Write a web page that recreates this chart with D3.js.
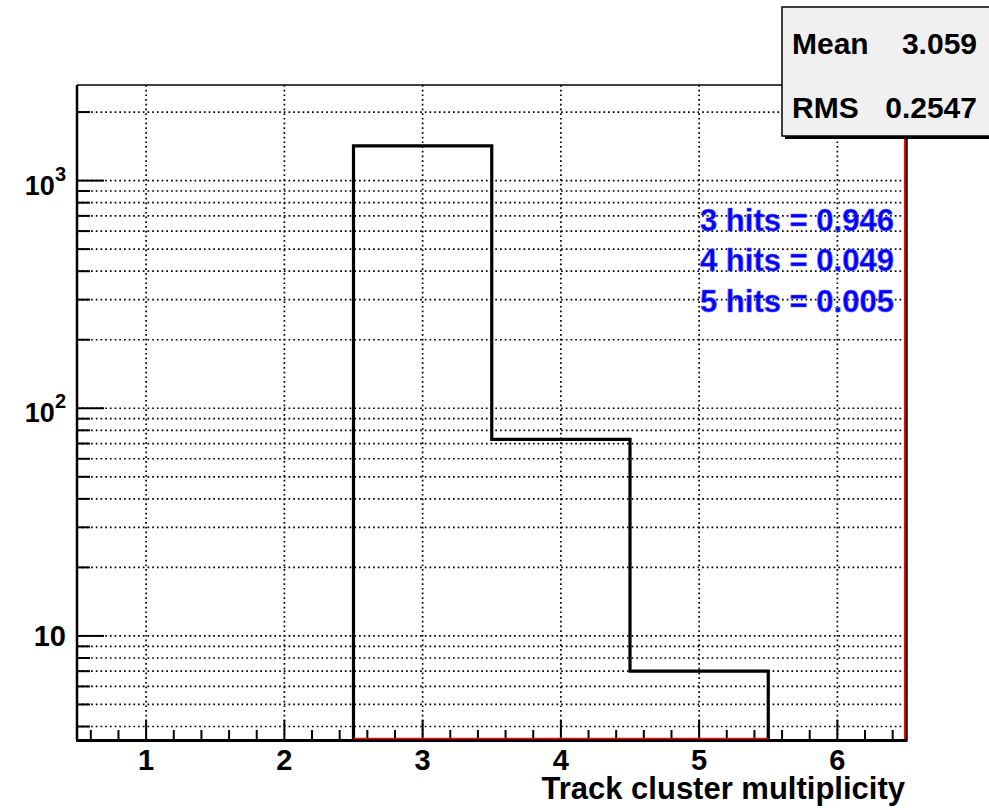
<!DOCTYPE html>
<html>
<head>
<meta charset="utf-8">
<script src="https://cdn.jsdelivr.net/npm/d3@7"></script>
<style>
  body { margin: 0; background: #fff; }
  text { font-family: "Liberation Sans", Arial, Helvetica, sans-serif; font-weight: bold; }
</style>
</head>
<body>
<div class="chart"></div>
<script>
// histogram data
var binCenters = [1, 2, 3, 4, 5, 6];
var binCounts = [0, 0, 1420, 73, 7, 0];
var xTicks = [1, 2, 3, 4, 5, 6];
var xDomain = [0.5, 6.5];
var yDomain = [3.49, 2630];
var fracLabels = ["3 hits = 0.946", "4 hits = 0.049", "5 hits = 0.005"];
var statNames = ["Mean", "RMS"];
var statValues = ["3.059", "0.2547"];
var xTitle = "Track cluster multiplicity";

var svgWidth = 989;
var svgHeight = 810;
var margin = { top: 85, right: 82.5, bottom: 70, left: 77 };
var width = svgWidth - margin.left - margin.right;
var height = svgHeight - margin.top - margin.bottom;

var svg = d3.select(".chart")
  .append("svg")
  .attr("width", svgWidth)
  .attr("height", svgHeight);

var chartGroup = svg.append("g")
  .attr("transform", `translate(${margin.left}, ${margin.top})`);

var x = d3.scaleLinear().domain(xDomain).range([0, width]);
var y = d3.scaleLog().domain(yDomain).range([height, 0]);

// tick values for log axis
var yMajor = [10, 100, 1000];
var yAll = [];
[1, 10, 100, 1000].forEach(function(dec) {
  for (var k = 1; k <= 9; k++) {
    var v = dec * k;
    if (v >= yDomain[0] && v <= yDomain[1]) yAll.push(v);
  }
});
var xMinor = d3.range(0.6, 6.5, 0.2).filter(function(v) {
  return Math.abs(v - Math.round(v)) > 0.05;
});

// grid
var grid = chartGroup.append("g")
  .attr("stroke", "#000")
  .attr("stroke-width", 1.7)
  .attr("stroke-dasharray", "1.7,3");
grid.selectAll("line.h")
  .data(yAll)
  .enter()
  .append("line")
  .attr("x1", 0).attr("x2", width)
  .attr("y1", d => y(d)).attr("y2", d => y(d));
grid.selectAll("line.v")
  .data(xTicks)
  .enter()
  .append("line")
  .attr("y1", 0).attr("y2", height)
  .attr("x1", d => x(d)).attr("x2", d => x(d));

// y ticks
chartGroup.selectAll("line.yt")
  .data(yAll)
  .enter()
  .append("line")
  .attr("x1", 0)
  .attr("x2", d => yMajor.indexOf(d) >= 0 ? 27 : 13)
  .attr("y1", d => y(d)).attr("y2", d => y(d))
  .attr("stroke", "#000")
  .attr("stroke-width", 2);

// x ticks
chartGroup.selectAll("line.xt")
  .data(xTicks.concat(xMinor))
  .enter()
  .append("line")
  .attr("x1", d => x(d)).attr("x2", d => x(d))
  .attr("y1", height)
  .attr("y2", d => xTicks.indexOf(d) >= 0 ? height - 20 : height - 10)
  .attr("stroke", "#000")
  .attr("stroke-width", 2);

// histogram outline
var pts = [];
binCenters.forEach(function(c, i) {
  if (binCounts[i] > 0) {
    pts.push([c - 0.5, binCounts[i]]);
    pts.push([c + 0.5, binCounts[i]]);
  }
});
pts.unshift([pts[0][0], yDomain[0]]);
pts.push([pts[pts.length - 1][0], yDomain[0]]);
var line = d3.line()
  .x(d => x(d[0]))
  .y(d => y(d[1]));
chartGroup.append("path")
  .attr("d", line(pts))
  .attr("fill", "none")
  .attr("stroke", "#000")
  .attr("stroke-width", 3.2);

// frame
chartGroup.append("line")
  .attr("x1", 0).attr("x2", width).attr("y1", 0).attr("y2", 0)
  .attr("stroke", "#000").attr("stroke-width", 1.5);
chartGroup.append("line")
  .attr("x1", 0).attr("x2", 0).attr("y1", 0).attr("y2", height)
  .attr("stroke", "#000").attr("stroke-width", 2.5);
chartGroup.append("line")
  .attr("x1", width).attr("x2", width).attr("y1", 0).attr("y2", height)
  .attr("stroke", "#000").attr("stroke-width", 2.5);
chartGroup.append("line")
  .attr("x1", -1).attr("x2", width + 1).attr("y1", height + 0.5).attr("y2", height + 0.5)
  .attr("stroke", "#000").attr("stroke-width", 3);

// red lines
var filled = binCenters.filter((c, i) => binCounts[i] > 0);
chartGroup.append("line")
  .attr("x1", x(d3.min(filled) - 0.5)).attr("x2", x(d3.max(filled) + 0.5))
  .attr("y1", height - 1.5).attr("y2", height - 1.5)
  .attr("stroke", "#ff0000").attr("stroke-width", 1.5);
chartGroup.append("line")
  .attr("x1", width - 1.8).attr("x2", width - 1.8)
  .attr("y1", 0).attr("y2", height - 1)
  .attr("stroke", "#ff0000").attr("stroke-width", 1.5);

// x labels
chartGroup.selectAll("text.xl")
  .data(xTicks)
  .enter()
  .append("text")
  .attr("x", d => x(d))
  .attr("y", height + 30)
  .attr("text-anchor", "middle")
  .attr("font-size", 29)
  .text(d => d);

// y labels
yMajor.forEach(function(v) {
  var t = chartGroup.append("text")
    .attr("x", -11)
    .attr("text-anchor", "end")
    .attr("font-size", 29);
  var p = Math.round(Math.log10(v));
  if (p === 1) {
    t.attr("y", y(v) + 10).text("10");
  } else {
    t.attr("y", y(v) + 14);
    t.append("tspan").attr("font-size", 27).text("10");
    t.append("tspan").attr("font-size", 20).attr("dy", -14).text(p);
  }
});

// axis title
svg.append("text")
  .attr("x", 905)
  .attr("y", 799)
  .attr("text-anchor", "end")
  .attr("font-size", 31)
  .text(xTitle);

// fractions
svg.selectAll("text.frac")
  .data(fracLabels)
  .enter()
  .append("text")
  .attr("x", 700)
  .attr("y", (d, i) => 231 + i * 40.3)
  .attr("font-size", 31)
  .attr("fill", "#0000ff")
  .attr("stroke", "#6a6aff")
  .attr("stroke-width", 0.6)
  .text(d => d);

// stats box
var box = svg.append("g");
box.append("rect")
  .attr("x", 785).attr("y", 10)
  .attr("width", 220).attr("height", 129)
  .attr("fill", "#000");
box.append("rect")
  .attr("x", 782).attr("y", 7)
  .attr("width", 220).attr("height", 129)
  .attr("fill", "#f0f0f0")
  .attr("stroke", "#000")
  .attr("stroke-width", 1.5);
statNames.forEach(function(n, i) {
  box.append("text")
    .attr("x", 792).attr("y", 54 + i * 64)
    .attr("font-size", 30)
    .text(n);
  box.append("text")
    .attr("x", 977).attr("y", 54 + i * 64)
    .attr("text-anchor", "end")
    .attr("font-size", 30)
    .text(statValues[i]);
});
</script>
</body>
</html>
